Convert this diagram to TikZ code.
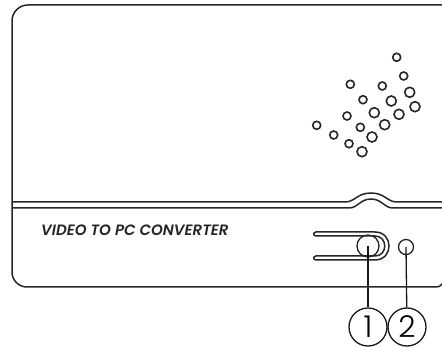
\documentclass[tikz,border=0pt]{standalone}
\usepackage{fontspec}
\newfontfamily\labelfont{Poppins SemiBold Italic}
\newfontfamily\calloutfont{Poppins Light}
\usepackage{tikz}
\tikzset{
  panel/.style = {line width=1.5pt, black!85},
  smalldot/.style = {circle, draw=black!85, line width=1.6pt, inner sep=0pt,
    minimum size=8pt},
  bigdot/.style = {smalldot, minimum size=10pt},
  callout/.style = {circle, draw=black!90, line width=1.3pt, inner sep=0pt,
    minimum size=38pt, font=\calloutfont\fontsize{30}{30}\selectfont},
  lead/.style = {black!90, line width=1.3pt},
  label/.style = {inner sep=0pt, black!85,
    font=\labelfont\fontsize{15}{16}\selectfont}
}

\begin{document}
\begin{tikzpicture}[x=1pt, y=-1pt]
\useasboundingbox (0,0) rectangle (442,347);
% housing
\draw [panel] (442,5) -- (28,5) to[out=180, in=90] (12,21) -- (12,272)
  to[out=-90, in=180] (27,287) -- (436,287) to[out=0, in=-120] (442,284);
\draw [panel] (12,202) -- (345,202) .. controls (355,202) and (357,193) .. (371,193)
  .. controls (385,193) and (387,202) .. (397,202) -- (442,202);
\draw [panel] (12,208) -- (349,208) .. controls (358,208) and (360,199) .. (371,199)
  .. controls (382,199) and (384,208) .. (393,208) -- (442,208);
\node [label, anchor=west] (name) at (41,230.5) {VIDEO TO PC CONVERTER};
% speaker holes
\node [smalldot] (h1) at (396.7,57.3) {};
\node [smalldot] (h2) at (403.7,76) {};
\node [smalldot] (h3) at (350.3,84.3) {};
\node [smalldot] (h4) at (382.3,86) {};
\node [bigdot] (h5) at (409.7,92.3) {};
\node [smalldot] (h6) at (363,99.7) {};
\node [bigdot] (h7) at (391.3,101) {};
\node [bigdot] (h8) at (415,106.7) {};
\node [bigdot] (h9) at (374.3,112.7) {};
\node [bigdot] (h10) at (399,114.3) {};
\node [smalldot] (h11) at (347,116) {};
\node [smalldot] (h12) at (316.7,125.3) {};
\node [bigdot] (h13) at (384.7,124.7) {};
\node [smalldot] (h14) at (360.3,127.3) {};
\node [smalldot] (h15) at (333.7,135) {};
\node [bigdot] (h16) at (372,137) {};
\node [smalldot] (h17) at (349,143.7) {};
\node [bigdot] (h18) at (362,151.7) {};
% switch slot
\draw [panel, line cap=round] (316,236) .. controls (313,236) and (313,232) .. (316,232)
  -- (375,232) .. controls (393.7,232) and (393.7,260) .. (375,260) -- (316,260)
  .. controls (313,260) and (313,256) .. (316,256) -- (375,256)
  .. controls (388,256) and (388,236) .. (375,236) -- (316,236);
\node [circle, draw=black!85, line width=1.3pt, inner sep=0pt, minimum size=22pt] (knob) at (368,246) {};
\node [circle, draw=black!85, line width=1.3pt, inner sep=0pt, minimum size=15pt] (led) at (406,247) {};
% callouts
\node [callout] (one) at (368,327) {1};
\node [callout] (two) at (407,327) {2};
\draw [lead] (knob.center) -- (one);
\draw [lead] (led.center) -- (two);
\end{tikzpicture}
\end{document}
